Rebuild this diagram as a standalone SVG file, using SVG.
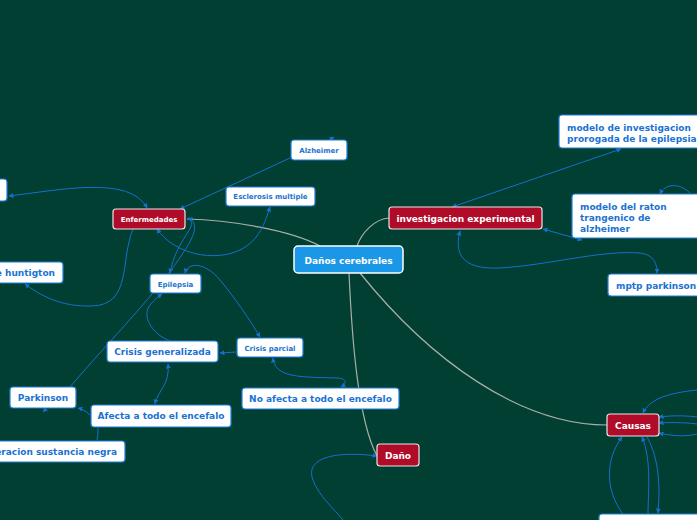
<svg xmlns="http://www.w3.org/2000/svg" width="697" height="520" viewBox="0 0 697 520">
<defs>
<marker id="ah" viewBox="0 0 10 10" refX="9" refY="5" markerWidth="5" markerHeight="5" markerUnits="userSpaceOnUse" orient="auto-start-reverse">
<path d="M0 0 L10 5 L0 10 z" fill="#1670cf"/>
</marker>
<style>
.bg{fill:#003f31}
.g{fill:none;stroke:#a9aea9;stroke-width:1.2}
.c{fill:none;stroke:#1670cf;stroke-width:1}
.e{marker-end:url(#ah)}
.s{marker-start:url(#ah)}
.w{fill:#ffffff;stroke:#1f7fdb;stroke-width:1.2}
.r{fill:#b00c2a;stroke:#e6e6e6;stroke-width:1.2}
.m{fill:#1a97e6;stroke:#ffffff;stroke-width:1.5}
text{font-family:"DejaVu Sans","Verdana",sans-serif;font-weight:bold}
.tb{fill:#1b72d2;font-size:9px}
.ts{fill:#1b72d2;font-size:7px}
.tw{fill:#ffffff;font-size:9px}
.tws{fill:#ffffff;font-size:7px}
</style>
</defs>
<rect class="bg" x="0" y="0" width="697" height="520"/>
<g id="connectors">
<path class="g" d="M320 246 C290 230 230 220 187 219"/>
<path class="g" d="M357 246 C362 232 375 219 389 218"/>
<path class="g" d="M349 273 C352 340 358 420 377 456"/>
<path class="g" d="M360 273 C430 360 520 425 607 425"/>
<path class="c e" d="M290 158 L180 209"/>
<path class="c e" d="M329 140 L334 137"/>
<path class="c s e" d="M9 196 C60 190 130 175 147 208"/>
<path class="c e" d="M133 229 C120 260 132 305 92 306 C60 307 40 295 25 284"/>
<path class="c s e" d="M157 229 C175 255 215 262 240 250 C260 240 265 222 270 207"/>
<path class="c e" d="M70 387 C110 340 160 290 185 250 C195 235 199 222 188 218"/>
<path class="c e" d="M190 220 C198 226 176 240 170 273"/>
<path class="c e" d="M170 341 C150 333 142 315 150 305 C155 299 159 296 162 294"/>
<path class="c s e" d="M185 273 C188 262 205 262 220 280 C235 298 250 320 260 337"/>
<path class="c e" d="M236 352 L220 353"/>
<path class="c s e" d="M273 358 C275 378 300 377 338 378 C348 379 346 384 341 387"/>
<path class="c s e" d="M168 364 C170 385 158 390 155 404"/>
<path class="c e" d="M90 415 C86 411 82 409 78 408"/>
<path class="c e" d="M46 409 L43 412"/>
<path class="c" d="M98 428 C98 432 98 436 97 440"/>
<path class="c s" d="M377 456 C330 450 305 460 313 480 C318 495 335 510 343 520"/>
<path class="c s e" d="M452 207 L621 149"/>
<path class="c s e" d="M543 229 L582 240"/>
<path class="c s e" d="M460 231 C455 250 458 270 500 268 C550 265 600 250 640 253 C655 255 657 265 657 273"/>
<path class="c s" d="M660 194 C665 183 680 183 690 193"/>
<path class="c s" d="M643 413 C650 398 670 393 697 390"/>
<path class="c s" d="M659 417 C675 415 690 416 697 417"/>
<path class="c s" d="M659 423 C675 422 690 423 697 424"/>
<path class="c s" d="M659 433 C675 437 690 436 697 434"/>
<path class="c s" d="M622 437 C605 460 605 490 623 514"/>
<path class="c s" d="M642 437 C652 460 648 495 648 514"/>
<path class="c e" d="M647 437 C660 460 660 490 658 513"/>
</g>
<g id="n-danos"><rect class="m" x="294" y="246" width="109" height="27" rx="4"/><text class="tw" x="348.5" y="263.5" text-anchor="middle">Daños cerebrales</text></g>
<g id="n-enfermedades"><rect class="r" x="113" y="209" width="72" height="20" rx="3"/><text class="tws" x="149" y="221.5" text-anchor="middle">Enfermedades</text></g>
<g id="n-alzheimer"><rect class="w" x="291" y="140" width="56" height="20" rx="3"/><text class="ts" x="319" y="152.5" text-anchor="middle">Alzheimer</text></g>
<g id="n-esclerosis"><rect class="w" x="226" y="187" width="89" height="19" rx="3"/><text class="ts" x="270.5" y="199" text-anchor="middle">Esclerosis multiple</text></g>
<g id="n-topleft"><rect class="w" x="-20" y="179" width="27" height="22" rx="3"/></g>
<g id="n-huntigton"><rect class="w" x="-40" y="262" width="103" height="21" rx="3"/><text class="tb" x="55" y="275.5" text-anchor="end">e huntigton</text></g>
<g id="n-epilepsia"><rect class="w" x="150" y="274" width="51" height="19" rx="3"/><text class="ts" x="175.5" y="286.5" text-anchor="middle">Epilepsia</text></g>
<g id="n-crisisgen"><rect class="w" x="107" y="341" width="111" height="21" rx="3"/><text class="tb" x="162.5" y="355" text-anchor="middle">Crisis generalizada</text></g>
<g id="n-crisispar"><rect class="w" x="237" y="338" width="66" height="19" rx="3"/><text class="ts" x="270" y="350.5" text-anchor="middle">Crisis parcial</text></g>
<g id="n-parkinson"><rect class="w" x="10" y="387" width="66" height="21" rx="3"/><text class="tb" x="43" y="401" text-anchor="middle">Parkinson</text></g>
<g id="n-afecta"><rect class="w" x="91" y="405" width="140" height="22" rx="3"/><text class="tb" x="161" y="419" text-anchor="middle">Afecta a todo el encefalo</text></g>
<g id="n-degeneracion"><rect class="w" x="-10" y="441" width="135" height="21" rx="3"/><text class="tb" x="117" y="455" text-anchor="end">eracion sustancia negra</text></g>
<g id="n-noafecta"><rect class="w" x="242" y="388" width="157" height="21" rx="3"/><text class="tb" x="320.5" y="402" text-anchor="middle">No afecta a todo el encefalo</text></g>
<g id="n-dano"><rect class="r" x="377" y="444" width="42" height="22" rx="3"/><text class="tw" x="398" y="458.5" text-anchor="middle">Daño</text></g>
<g id="n-investigacion"><rect class="r" x="389" y="207" width="153" height="22" rx="3"/><text class="tw" x="465.5" y="221.5" text-anchor="middle">investigacion experimental</text></g>
<g id="n-modeloinv"><rect class="w" x="559" y="115" width="150" height="33" rx="3"/><text class="tb" x="567" y="131">modelo de investigacion</text><text class="tb" x="567" y="142">prorogada de la epilepsia</text></g>
<g id="n-modeloraton"><rect class="w" x="572" y="194" width="140" height="44" rx="3"/><text class="tb" x="580" y="209.5">modelo del raton</text><text class="tb" x="580" y="220.5">trangenico de</text><text class="tb" x="580" y="231.5">alzheimer</text></g>
<g id="n-mptp"><rect class="w" x="608" y="274" width="100" height="22" rx="3"/><text class="tb" x="616" y="288.5">mptp parkinson</text></g>
<g id="n-causas"><rect class="r" x="607" y="414" width="52" height="22" rx="3"/><text class="tw" x="633" y="428.5" text-anchor="middle">Causas</text></g>
<g id="n-bottomright"><rect class="w" x="599" y="514" width="110" height="20" rx="3"/></g>
</svg>
